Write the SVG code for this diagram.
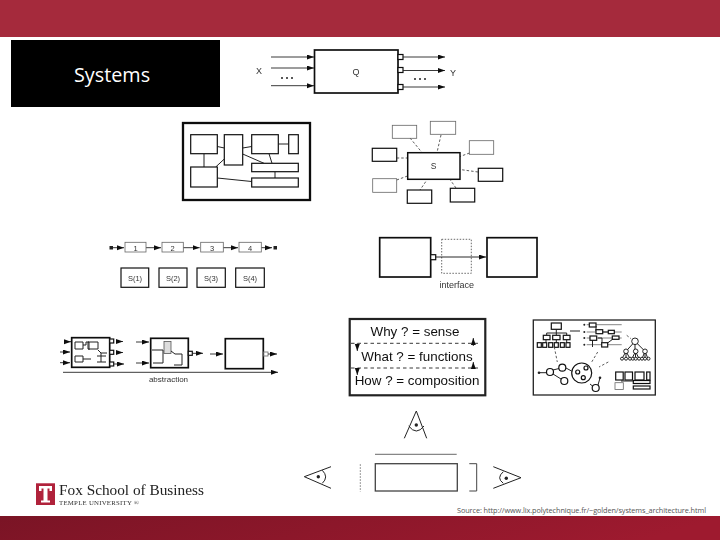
<svg xmlns="http://www.w3.org/2000/svg" width="720" height="540" viewBox="0 0 720 540">
<style>
.b{fill:#fff;stroke:#111;stroke-width:1.2}
.t{fill:#fff;stroke:#111;stroke-width:1.7}
.l{fill:none;stroke:#222;stroke-width:1}
.g{fill:none;stroke:#666;stroke-width:.8}
.d{fill:none;stroke:#333;stroke-width:.8;stroke-dasharray:2.5 2}
.a{fill:none;stroke:#222;stroke-width:.9;marker-end:url(#ah)}
.s{fill:#222}
.h{font-family:"Liberation Sans",Arial,sans-serif;fill:#333;text-anchor:middle}
.w{font-family:"Liberation Sans",Arial,sans-serif;fill:#111;text-anchor:middle;font-size:13.4px}
</style>
<defs>
<linearGradient id="fg" x1="0" y1="0" x2="1" y2="0.12"><stop offset="0" stop-color="#7a1425"/><stop offset="1" stop-color="#9e1a2f"/></linearGradient>
<marker id="ah" markerWidth="8" markerHeight="6" refX="7" refY="2.5" orient="auto" markerUnits="userSpaceOnUse"><path d="M0 0L7 2.500L0 5Z" fill="#111"/></marker>
<filter id="soft" x="0" y="0" width="720" height="540" filterUnits="userSpaceOnUse"><feGaussianBlur stdDeviation="0.3"/></filter>
</defs>
<rect width="720" height="540" fill="#fff"/>
<rect id="header" width="720" height="37" fill="#a52a3c"/>
<rect id="footer" y="516" width="720" height="24" fill="url(#fg)"/>
<g id="title"><rect x="11" y="40" width="209" height="67" fill="#000"/><text x="74" y="82" font-family="'Open Sans','Noto Sans',sans-serif" font-size="19.800" fill="#fff">Systems</text></g>
<g id="diagrams" filter="url(#soft)">
<g id="q-node"><rect class="t" x="314.500" y="50" width="83.500" height="43"/><text class="h" x="356" y="75" font-size="9">Q</text>
<rect class="b" x="398" y="54.500" width="5" height="5"/><rect class="b" x="398" y="67.500" width="5" height="5"/><rect class="b" x="398" y="84.500" width="5" height="5"/>
<text class="h" x="259" y="74" font-size="9">X</text><text class="h" x="453" y="76" font-size="9">Y</text></g>
<g id="q-connectors"><path class="a" d="M271 57H314"/><path class="a" d="M271 68H314"/><path class="a" d="M271 85.700H314"/><path class="a" d="M403 57H445"/><path class="a" d="M403 70.500H445"/><path class="a" d="M403 87H445"/>
<path d="M281 78h2M286 78h2M291 78h2M414 79h2M419 79h2M424 79h2" stroke="#222" stroke-width="1.300" fill="none"/></g>

<g id="block-frame"><rect x="183" y="123" width="127" height="77" fill="#fff" stroke="#111" stroke-width="2.300"/></g>
<g id="block-connectors"><path class="l" d="M204 153.700V167M217.300 146.500L224.300 148M242.700 148L251.700 146.500M278.300 144H288.700M242.700 154L264 163.300M269 153.700L272 163.300M215.700 167L224.300 159M275 171.700V178M217.300 178L251.700 181.500"/></g>
<g id="block-a"><rect class="b" x="190.700" y="134.700" width="26.600" height="19"/></g>
<g id="block-b"><rect class="b" x="224.300" y="134.700" width="18.400" height="30.300"/></g>
<g id="block-c"><rect class="b" x="251.700" y="134.700" width="26.600" height="19"/></g>
<g id="block-d"><rect class="b" x="288.700" y="134.700" width="9.600" height="19"/></g>
<g id="block-e"><rect class="b" x="251.700" y="163.300" width="46.600" height="8.400"/></g>
<g id="block-f"><rect class="b" x="251.700" y="178" width="46.600" height="9"/></g>
<g id="block-g"><rect class="b" x="190.700" y="167" width="26.600" height="20"/></g>

<g id="star-connectors"><path class="d" d="M410 138L422 152.500M441 135L437 152.500M469.500 153L460 156.500M478 172L460 169.500M456 188L450 179.500M425.700 181.700L420 190M396.700 180L407.500 176M396.700 158H407.500"/></g>
<g id="star-s"><rect x="407.700" y="152.700" width="52.300" height="26.600" fill="#fff" stroke="#111" stroke-width="1.500"/><text class="h" x="433.500" y="169" font-size="8.500">S</text></g>
<g id="star-1"><rect class="g" x="392.300" y="125.300" width="24.400" height="13"/></g>
<g id="star-2"><rect class="g" x="430.300" y="121.300" width="25.400" height="13"/></g>
<g id="star-3"><rect class="g" x="469.300" y="140.700" width="24.400" height="13.600"/></g>
<g id="star-4"><rect class="b" x="478.300" y="168.300" width="24.400" height="13"/></g>
<g id="star-5"><rect class="b" x="450.300" y="188.300" width="24.400" height="13.700"/></g>
<g id="star-6"><rect class="b" x="407.300" y="190" width="24.400" height="13.300"/></g>
<g id="star-7"><rect class="g" x="372.700" y="178.700" width="24" height="13.600"/></g>
<g id="star-8"><rect class="b" x="372.300" y="148.300" width="24.400" height="13"/></g>

<g id="chain-connectors"><path class="a" d="M113 247.700H124"/><path class="a" d="M146 247.700H161"/><path class="a" d="M183.300 247.700H199.700"/><path class="a" d="M223.300 247.700H238"/><path class="a" d="M261.300 247.700H272"/></g>
<g id="chain-start"><rect class="s" x="109.500" y="246" width="3.500" height="3.500"/><rect class="s" x="273.500" y="246" width="3.500" height="3.500"/></g>
<g id="chain-1"><rect class="g" x="125" y="242.300" width="21" height="9.700"/><text class="h" x="135.500" y="250.500" font-size="7.500">1</text></g>
<g id="chain-2"><rect class="g" x="162" y="242.300" width="21.300" height="9.700"/><text class="h" x="172.500" y="250.500" font-size="7.500">2</text></g>
<g id="chain-3"><rect class="g" x="200.700" y="242.300" width="22.600" height="9.700"/><text class="h" x="212" y="250.500" font-size="7.500">3</text></g>
<g id="chain-4"><rect class="g" x="239" y="242.300" width="22.300" height="9.700"/><text class="h" x="250" y="250.500" font-size="7.500">4</text></g>
<g id="state-1"><rect class="b" x="121" y="268" width="27.700" height="19.300"/><text class="h" x="135" y="281" font-size="7.500">S(1)</text></g>
<g id="state-2"><rect class="b" x="159" y="268" width="28" height="19.300"/><text class="h" x="173" y="281" font-size="7.500">S(2)</text></g>
<g id="state-3"><rect class="b" x="197" y="268" width="28.300" height="19.300"/><text class="h" x="211" y="281" font-size="7.500">S(3)</text></g>
<g id="state-4"><rect class="b" x="235.700" y="268" width="28.600" height="19.300"/><text class="h" x="250" y="281" font-size="7.500">S(4)</text></g>

<g id="iface-mid"><rect x="441.700" y="239.300" width="29.600" height="34" fill="#fff" stroke="#444" stroke-width=".8" stroke-dasharray="1.500 1.500"/><text class="h" x="456.700" y="288" font-size="9">interface</text></g>
<g id="iface-left"><rect class="t" x="379.700" y="237.700" width="51" height="39.300"/><rect class="b" x="430.700" y="254.700" width="5" height="5"/></g>
<g id="iface-right"><rect class="t" x="487" y="237.700" width="50" height="39.300"/></g>
<g id="iface-connectors"><path class="a" d="M435.700 257H486" style="stroke:#111"/></g>

<g id="abs-1"><rect class="t" x="71.700" y="337.700" width="38" height="29.600"/>
<path class="l" d="M75 342h8v7h-8zM88 342h10v7h-10zM75 356h8v6h-8zM83 345h3v-3h3v8M98 350l3 3h6M97 356h9M101 353v9M97 362h9M83 359h8"/>
<rect class="b" x="109.700" y="339" width="4" height="4"/><rect class="b" x="109.700" y="350.300" width="4" height="4"/><rect class="b" x="109.700" y="362" width="4" height="4"/></g>
<g id="abs-2"><rect class="t" x="150.700" y="338.300" width="37.600" height="29.400"/>
<rect x="164" y="341.500" width="7" height="12" fill="#ddd" stroke="#555" stroke-width=".8"/><path class="l" d="M152 350h11v13h-10M171 351l4 3h7v11h-8"/><rect class="b" x="188.300" y="351.300" width="4" height="4"/></g>
<g id="abs-3"><rect class="t" x="225.300" y="338.700" width="38" height="30"/><rect class="g" x="263.300" y="352" width="4.700" height="4"/></g>
<g id="abs-connectors"><path class="a" d="M67 341.700H71"/><path class="a" d="M60 352H70"/><path class="a" d="M60 362.700H70"/><path class="a" d="M119 341.500H123"/><path class="a" d="M119 352.500H123"/><path class="a" d="M114 364H124"/><path class="a" d="M136 342H149"/><path class="a" d="M136 363H149"/><path class="a" d="M192.300 353.300H203"/><path class="a" d="M210 354H223"/><path class="a" d="M268 354H277"/><path class="a" d="M63 372.300H278"/></g>
<g id="abs-label"><text class="h" x="168.500" y="381.500" font-size="8">abstraction</text></g>

<g id="why"><rect x="349.700" y="319" width="135.600" height="76.300" fill="#fff" stroke="#222" stroke-width="2.200"/>
<text class="w" x="415" y="336">Why ? = sense</text><text class="w" x="417" y="360.700">What ? = functions</text><text class="w" x="417" y="385.300">How ? = composition</text></g>
<g id="why-connectors"><path d="M351 343.300H480M351 368H480" fill="none" stroke="#222" stroke-width=".9" stroke-dasharray="3.500 3"/>
<path class="a" d="M357.300 343.300V351"/><path class="a" d="M357.300 368V375"/><path class="a" d="M473.300 346V338"/><path class="a" d="M473.300 369V362"/></g>

<g id="views-frame"><rect x="533.300" y="320" width="122" height="75" fill="#fff" stroke="#222" stroke-width="1.300"/></g>
<g id="views-tree"><rect class="b" x="551.300" y="323" width="10" height="6.300"/>
<path class="l" d="M556.300 329.300V335.300M546.700 335.300V333H566.700V335.300M570 331H580M546 339.700V342.700M556.300 339.700V342.700M566.700 339.700V342.700"/>
<rect class="b" x="543.300" y="335.300" width="6.700" height="4.400"/><rect class="b" x="552.700" y="335.300" width="7.300" height="4.400"/><rect class="b" x="563.300" y="335.300" width="6.700" height="4.400"/>
<rect class="b" x="537.300" y="342.700" width="4" height="4.600"/><rect class="b" x="542.700" y="342.700" width="4" height="4.600"/><rect class="b" x="548.700" y="342.700" width="4" height="4.600"/><rect class="b" x="554.300" y="342.700" width="4" height="4.600"/><rect class="b" x="560.300" y="342.700" width="4" height="4.600"/><rect class="b" x="566" y="342.700" width="4" height="4.600"/></g>
<g id="views-timing"><path class="g" d="M586.700 324.700H621.700M586.700 332H621.700M586.700 338H621.700M586.700 344.700H621.700"/>
<path class="l" d="M596 326V331H597M592.500 340V347M603 332H608M598 338H602V343M607.500 343L613 339"/>
<rect class="b" x="589.300" y="323" width="6.700" height="4"/><rect class="b" x="596" y="329.700" width="6.700" height="4"/><rect class="b" x="590" y="336" width="6.700" height="4.300"/><rect class="b" x="608.300" y="330.300" width="6" height="3.400"/><rect class="b" x="612.300" y="336" width="6.700" height="3.300"/><rect class="b" x="601.700" y="342.700" width="6" height="4.300"/>
<circle class="s" cx="584.300" cy="324.700" r="1"/><circle class="s" cx="584.300" cy="332" r="1"/><circle class="s" cx="584.300" cy="338" r="1"/><circle class="s" cx="584.300" cy="344.700" r="1"/></g>
<g id="views-hier"><path class="l" d="M635 341.300L626 351.300M635 341.300V351.300M635 341.300L645 351.300M626 351.300L622 358.700M626 351.300V358.700M626 351.300L630 358.700M635.500 351.300L632 358.700M635.500 351.300V358.700M635.500 351.300L639 358.700M645 351.300L642 358.700M645 351.300V358.700M645 351.300L648 358.700"/>
<g class="b" style="stroke-width:.9"><circle cx="635" cy="341.300" r="3.300"/><circle cx="626" cy="351.300" r="2.300"/><circle cx="635.700" cy="351.300" r="2.300"/><circle cx="645" cy="351.300" r="2.300"/><circle cx="622" cy="358.700" r="1.500"/><circle cx="626" cy="358.700" r="1.500"/><circle cx="630" cy="358.700" r="1.500"/><circle cx="632.800" cy="358.700" r="1.500"/><circle cx="635.700" cy="358.700" r="1.500"/><circle cx="639" cy="358.700" r="1.500"/><circle cx="642" cy="358.700" r="1.500"/><circle cx="645" cy="358.700" r="1.500"/><circle cx="648.500" cy="358.700" r="1.500"/></g></g>
<g id="views-graph"><path class="l" d="M539 372.700H546.500M553 370L559 368.500M553 374L561 379M566 368L571.500 371M590 384L595 388M598 385L600 378"/>
<circle class="s" cx="539" cy="372.700" r="1.300"/><circle class="s" cx="600" cy="377.700" r="1.300"/>
<g class="b"><circle cx="550" cy="372" r="3.500"/><circle cx="562.300" cy="367.700" r="3.500"/><circle cx="564.300" cy="381" r="3.500"/><circle cx="581.700" cy="373" r="10"/><circle cx="577.700" cy="372" r="2"/><circle cx="586" cy="368" r="2"/><circle cx="583.300" cy="377.700" r="2"/><circle cx="595.700" cy="388" r="3.500"/></g></g>
<g id="views-block"><path class="l" d="M621 381H634M640 376V373"/>
<rect class="b" x="615.700" y="372" width="7.500" height="8"/><rect class="b" x="625" y="372" width="7.500" height="8"/><rect class="b" x="635" y="372" width="9" height="8"/><rect class="b" x="646.700" y="372" width="3.300" height="8"/><rect class="b" x="633.300" y="380.500" width="16.700" height="3"/><rect class="b" x="633.300" y="386" width="16.700" height="3"/><rect class="g" x="615" y="382.700" width="8.300" height="6.700"/></g>
<g id="views-connectors"><path class="d" d="M554.300 347L557.300 362M597.700 352L591.700 362M608.300 362L599 367M626.700 335.300L631 338.700"/></g>

<g id="eye-top"><path class="l" d="M404.300 438.300L416.300 411L426.700 438.300M408.700 426Q416.300 436 424 426"/><circle class="s" cx="416.300" cy="425" r="1.700"/></g>
<g id="eye-left"><path class="l" d="M331 466.700L304.300 476.700L331 488.300M322.300 470.300Q329 477 322.300 483.300"/><circle class="s" cx="318.300" cy="476.700" r="1.700"/></g>
<g id="eye-right"><path class="l" d="M493.300 466.700L521 477.700L493.300 488.300M503.300 471.700Q496 478 503.300 483.300"/><circle class="s" cx="506.300" cy="478.300" r="1.700"/></g>
<g id="view-box"><rect x="375.300" y="463.700" width="82" height="27.300" fill="#fff" stroke="#444" stroke-width="1.300"/>
<path d="M375 454.300H456.700" stroke="#444" stroke-width=".8" fill="none"/><path d="M360.300 464.300V491.700" stroke="#555" stroke-width=".8" stroke-dasharray="1.500 1.500" fill="none"/><path d="M469.300 463.700H476.700V491H469.300" stroke="#444" stroke-width="1" fill="none"/></g>

<g id="logo"><rect x="36" y="483.300" width="19" height="21.700" fill="#b0203a"/>
<path d="M39 486H52V491H49.500V488.500H47.500V500.500H50V502.500H41V500.500H43.500V488.500H41.500V491H39Z" fill="#fff"/>
<text x="59" y="495" font-family="'Liberation Serif',serif" font-size="15.300" fill="#222">Fox School of Business</text>
<text x="59" y="504.500" font-family="'Liberation Serif',serif" font-size="6.800" fill="#333" letter-spacing=".25">TEMPLE UNIVERSITY ®</text></g>
</g>
<text id="source" x="457" y="513" font-family="'Open Sans','Noto Sans',sans-serif" font-size="7.300" fill="#555" textLength="249" lengthAdjust="spacing">Source: http://www.lix.polytechnique.fr/~golden/systems_architecture.html</text>
</svg>
